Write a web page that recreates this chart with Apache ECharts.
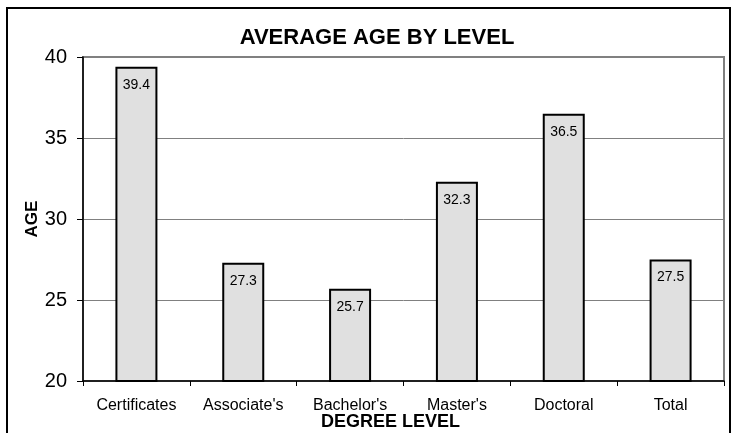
<!DOCTYPE html>
<html><head><meta charset="utf-8">
<script src="https://cdn.jsdelivr.net/npm/echarts@6/dist/echarts.min.js"></script>
<style>html,body{margin:0;padding:0;background:#fff}#c{width:735px;height:433px}
#frame{position:absolute;left:6px;top:7px;width:725px;height:430px;border:2px solid #000;box-sizing:border-box;pointer-events:none}</style>
</head><body><div id="c"></div><div id="frame"></div>
<script>
const categories = ["Certificates","Associate's","Bachelor's","Master's","Doctoral","Total"];
const ages = [39.4, 27.3, 25.7, 32.3, 36.5, 27.5];
const yTicks = [20, 25, 30, 35, 40];
const chart = echarts.init(document.getElementById('c'));
chart.setOption({
  animation:false,
  title:{text:'AVERAGE AGE BY LEVEL',left:372,top:22,textAlign:'center',textStyle:{fontFamily:'Liberation Sans',fontWeight:'bold',fontSize:22,color:'#000'}},
  grid:{left:83,right:11,top:57,bottom:52,show:true,borderColor:'#808080',borderWidth:2,containLabel:false,outerBoundsMode:'none'},
  xAxis:{type:'category',data:categories,
    name:'DEGREE LEVEL',nameLocation:'middle',nameGap:32,nameMoveOverlap:false,
    nameTextStyle:{fontFamily:'Liberation Sans',fontWeight:'bold',fontSize:18,color:'#000',padding:[0,26,0,0]},
    axisLine:{lineStyle:{color:'#000',width:1.5}},
    axisTick:{show:true,length:5,lineStyle:{color:'#000'}},
    axisLabel:{fontFamily:'Liberation Sans',fontSize:16,color:'#000',margin:17}},
  yAxis:{type:'value',min:yTicks[0],max:yTicks[yTicks.length-1],interval:5,
    name:'AGE',nameLocation:'middle',nameGap:42,nameRotate:90,nameMoveOverlap:false,
    nameTextStyle:{fontFamily:'Liberation Sans',fontWeight:'bold',fontSize:17,color:'#000'},
    axisLine:{show:true,lineStyle:{color:'#000',width:1.5}},
    axisTick:{show:true,length:6,lineStyle:{color:'#000'}},
    axisLabel:{fontFamily:'Liberation Sans',fontSize:20,color:'#000',margin:16},
    splitLine:{lineStyle:{color:'#808080',width:1}}},
  series:[{type:'bar',data:ages,barWidth:42,
    itemStyle:{color:'#e0e0e0',borderColor:'#000',borderWidth:2},
    label:{show:true,position:'insideTop',distance:11,fontFamily:'Liberation Sans',fontSize:14,color:'#000',formatter:p=>p.value.toFixed(1)}}]
});
</script></body></html>
